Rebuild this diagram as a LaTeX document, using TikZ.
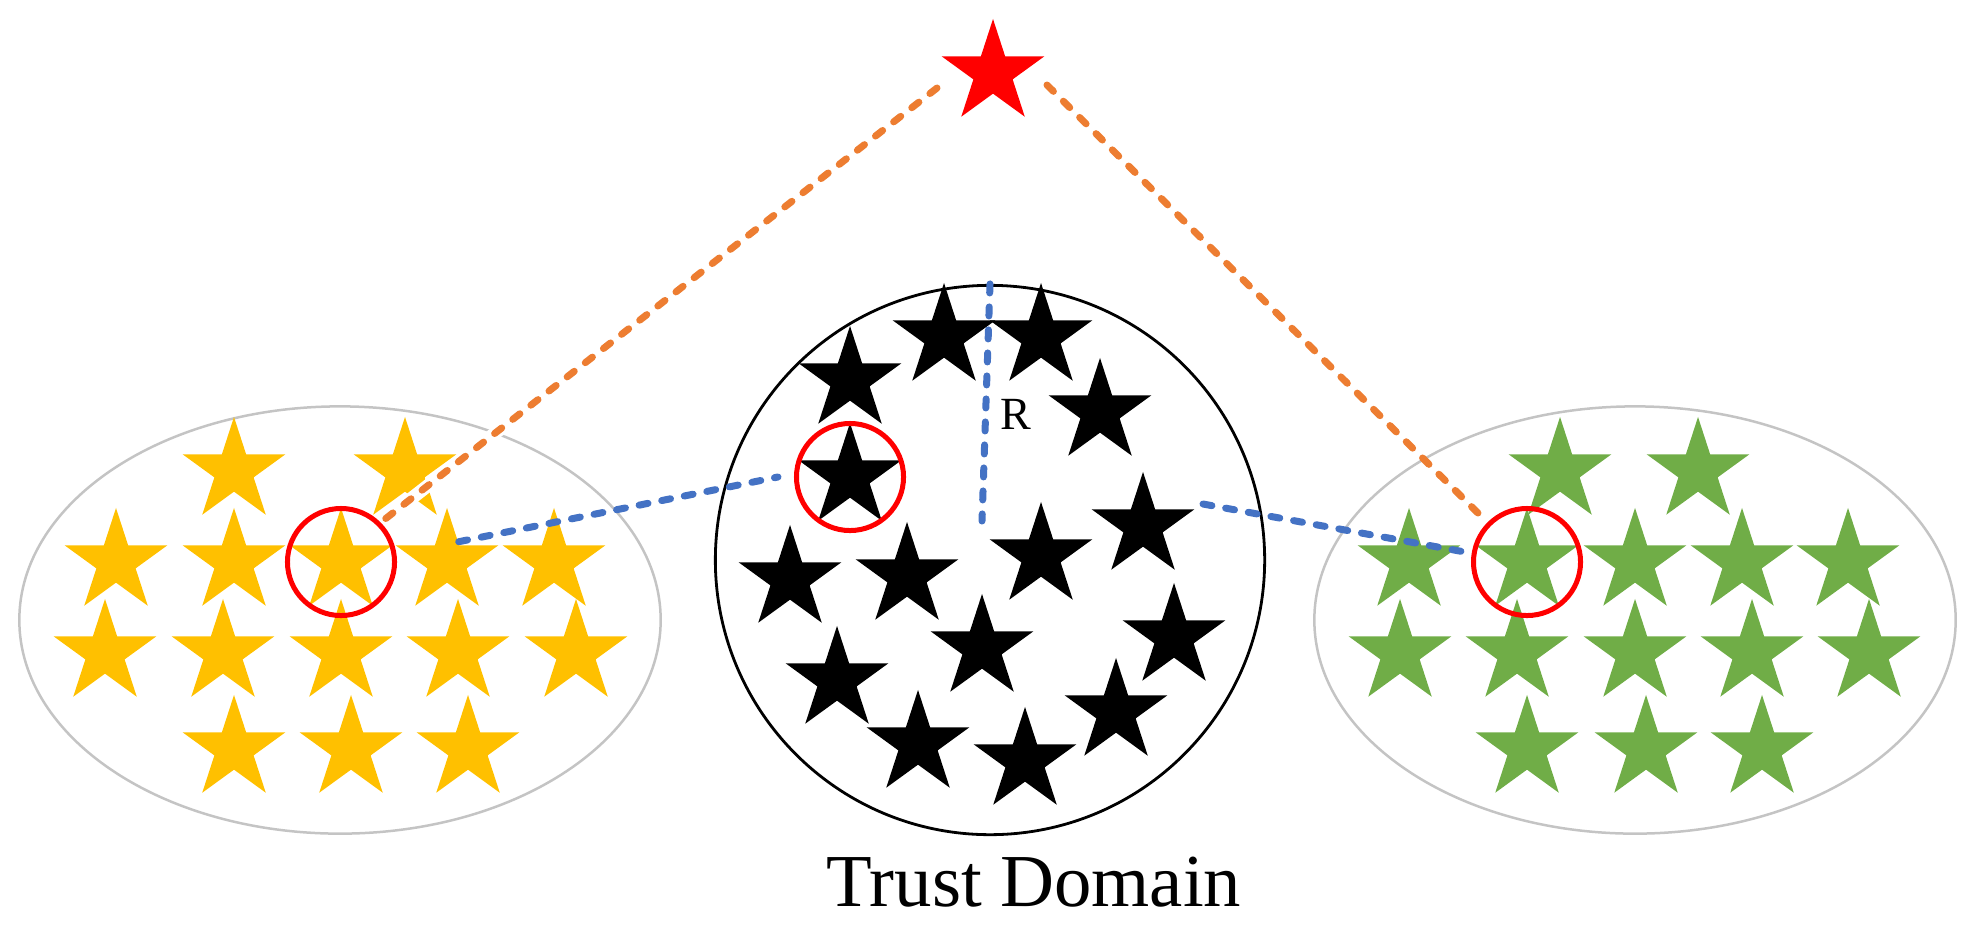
\documentclass[tikz,border=0pt]{standalone}
\usepackage{fontspec}
\setmainfont{Liberation Serif}
\usetikzlibrary{calc}
\usetikzlibrary{positioning}
\usetikzlibrary{shapes.geometric}

\definecolor{stargold}{RGB}{255,192,0}
\definecolor{stargreen}{RGB}{112,173,71}
\definecolor{linkorange}{RGB}{237,125,49}
\definecolor{linkblue}{RGB}{68,114,196}
\definecolor{groupgray}{RGB}{196,196,196}

\begin{document}
\begin{tikzpicture}[x=0.01cm, y=-0.01cm,
        tstar/.style={star, star points=5, star point ratio=2.618, minimum size=1.08cm, inner sep=0pt, draw=none},
        gold/.style={tstar, fill=stargold},
        leaf/.style={tstar, fill=stargreen},
        dark/.style={tstar, fill=black},
        ring/.style={circle, draw=red, line width=0.05cm, minimum size=1.07cm, inner sep=0pt},
        group/.style={ellipse, draw=groupgray, line width=0.025cm, minimum width=6.41cm, minimum height=4.27cm, inner sep=0pt},
        hop/.style={line width=0.07cm, line cap=round, dash pattern=on 0.09cm off 0.14cm},
        halo/.style={preaction={draw=white, solid, line width=0.13cm}}]
    \useasboundingbox (0,0) rectangle (1986,939);

    \draw (340,620) node[group] (left) {};
    \draw (990,560) node[circle, draw, line width=0.028cm, minimum size=5.49cm, inner sep=0pt] (dom) {};
    \draw (1635,620) node[group] (right) {};

    \draw (993,73) node[tstar, fill=red] (S) {};

    \draw ($(left) + (-106,-149)$) node[gold] (Y1) {};
    \draw ($(left) + (65,-149)$) node[gold] (Y2) {};
    \draw ($(left) + (-224,-58)$) node[gold] (Y3) {};
    \draw ($(left) + (-106,-58)$) node[gold] (Y4) {};
    \draw ($(left) + (1,-58)$) node[gold] (Y5) {};
    \draw ($(left) + (107,-58)$) node[gold] (Y6) {};
    \draw ($(left) + (214,-58)$) node[gold] (Y7) {};
    \draw ($(left) + (-235,33)$) node[gold] (Y8) {};
    \draw ($(left) + (-117,33)$) node[gold] (Y9) {};
    \draw ($(left) + (1,33)$) node[gold] (Y10) {};
    \draw ($(left) + (118,33)$) node[gold] (Y11) {};
    \draw ($(left) + (236,33)$) node[gold] (Y12) {};
    \draw ($(left) + (-106,129)$) node[gold] (Y13) {};
    \draw ($(left) + (11,129)$) node[gold] (Y14) {};
    \draw ($(left) + (128,129)$) node[gold] (Y15) {};

    \draw ($(right) + (-75,-149)$) node[leaf] (G1) {};
    \draw ($(right) + (63,-149)$) node[leaf] (G2) {};
    \draw ($(right) + (-226,-58)$) node[leaf] (G3) {};
    \draw ($(right) + (-108,-58)$) node[leaf] (G4) {};
    \draw ($(right) + (0,-58)$) node[leaf] (G5) {};
    \draw ($(right) + (107,-58)$) node[leaf] (G6) {};
    \draw ($(right) + (213,-58)$) node[leaf] (G7) {};
    \draw ($(right) + (-235,33)$) node[leaf] (G8) {};
    \draw ($(right) + (-118,33)$) node[leaf] (G9) {};
    \draw ($(right) + (0,33)$) node[leaf] (G10) {};
    \draw ($(right) + (117,33)$) node[leaf] (G11) {};
    \draw ($(right) + (234,33)$) node[leaf] (G12) {};
    \draw ($(right) + (-108,129)$) node[leaf] (G13) {};
    \draw ($(right) + (11,129)$) node[leaf] (G14) {};
    \draw ($(right) + (127,129)$) node[leaf] (G15) {};

    \draw ($(dom) + (-46,-223)$) node[dark] (B1) {};
    \draw ($(dom) + (51,-223)$) node[dark] (B2) {};
    \draw ($(dom) + (-140,-180)$) node[dark] (B3) {};
    \draw ($(dom) + (110,-148)$) node[dark] (B4) {};
    \draw ($(dom) + (-140,-83)$) node[dark] (B5) {};
    \draw ($(dom) + (153,-34)$) node[dark] (B6) {};
    \draw ($(dom) + (51,-4)$) node[dark] (B7) {};
    \draw ($(dom) + (-200,19)$) node[dark] (B8) {};
    \draw ($(dom) + (-83,16)$) node[dark] (B9) {};
    \draw ($(dom) + (-8,88)$) node[dark] (B10) {};
    \draw ($(dom) + (184,77)$) node[dark] (B11) {};
    \draw ($(dom) + (-153,120)$) node[dark] (B12) {};
    \draw ($(dom) + (126,152)$) node[dark] (B13) {};
    \draw ($(dom) + (-72,184)$) node[dark] (B14) {};
    \draw ($(dom) + (35,201)$) node[dark] (B15) {};

    \coordinate (SL) at ($(S) + (-56,15)$);
    \coordinate (SR) at ($(S) + (54,12)$);
    \coordinate (B6R) at ($(B6) + (60,-22)$);
    \coordinate (Rend) at ($(dom) + (-8,-39)$);

    \draw[hop, halo, draw=linkorange] (SL) -- ($(Y5) + (39,-39)$);
    \draw[hop, draw=linkorange] (SR) -- ($(G4) + (-40,-40)$);

    \draw (Y5) node[ring] (YR) {};
    \draw (G4) node[ring] (GR) {};
    \draw (B5) node[ring] (BR) {};

    \draw[hop, draw=linkblue] (Y6.60) -- ([xshift=-0.16cm]BR.west);
    \draw[hop, draw=linkblue] (B6R) -- (GR.171);
    \draw[hop, draw=linkblue] (dom.north) -- (Rend) node[pos=0.55, right, font=\fontsize{13.1}{16}\selectfont] {R};

    \draw (1034,906) node[anchor=base, font=\fontsize{21.25}{25}\selectfont] (title) {Trust Domain};
\end{tikzpicture}
\end{document}
